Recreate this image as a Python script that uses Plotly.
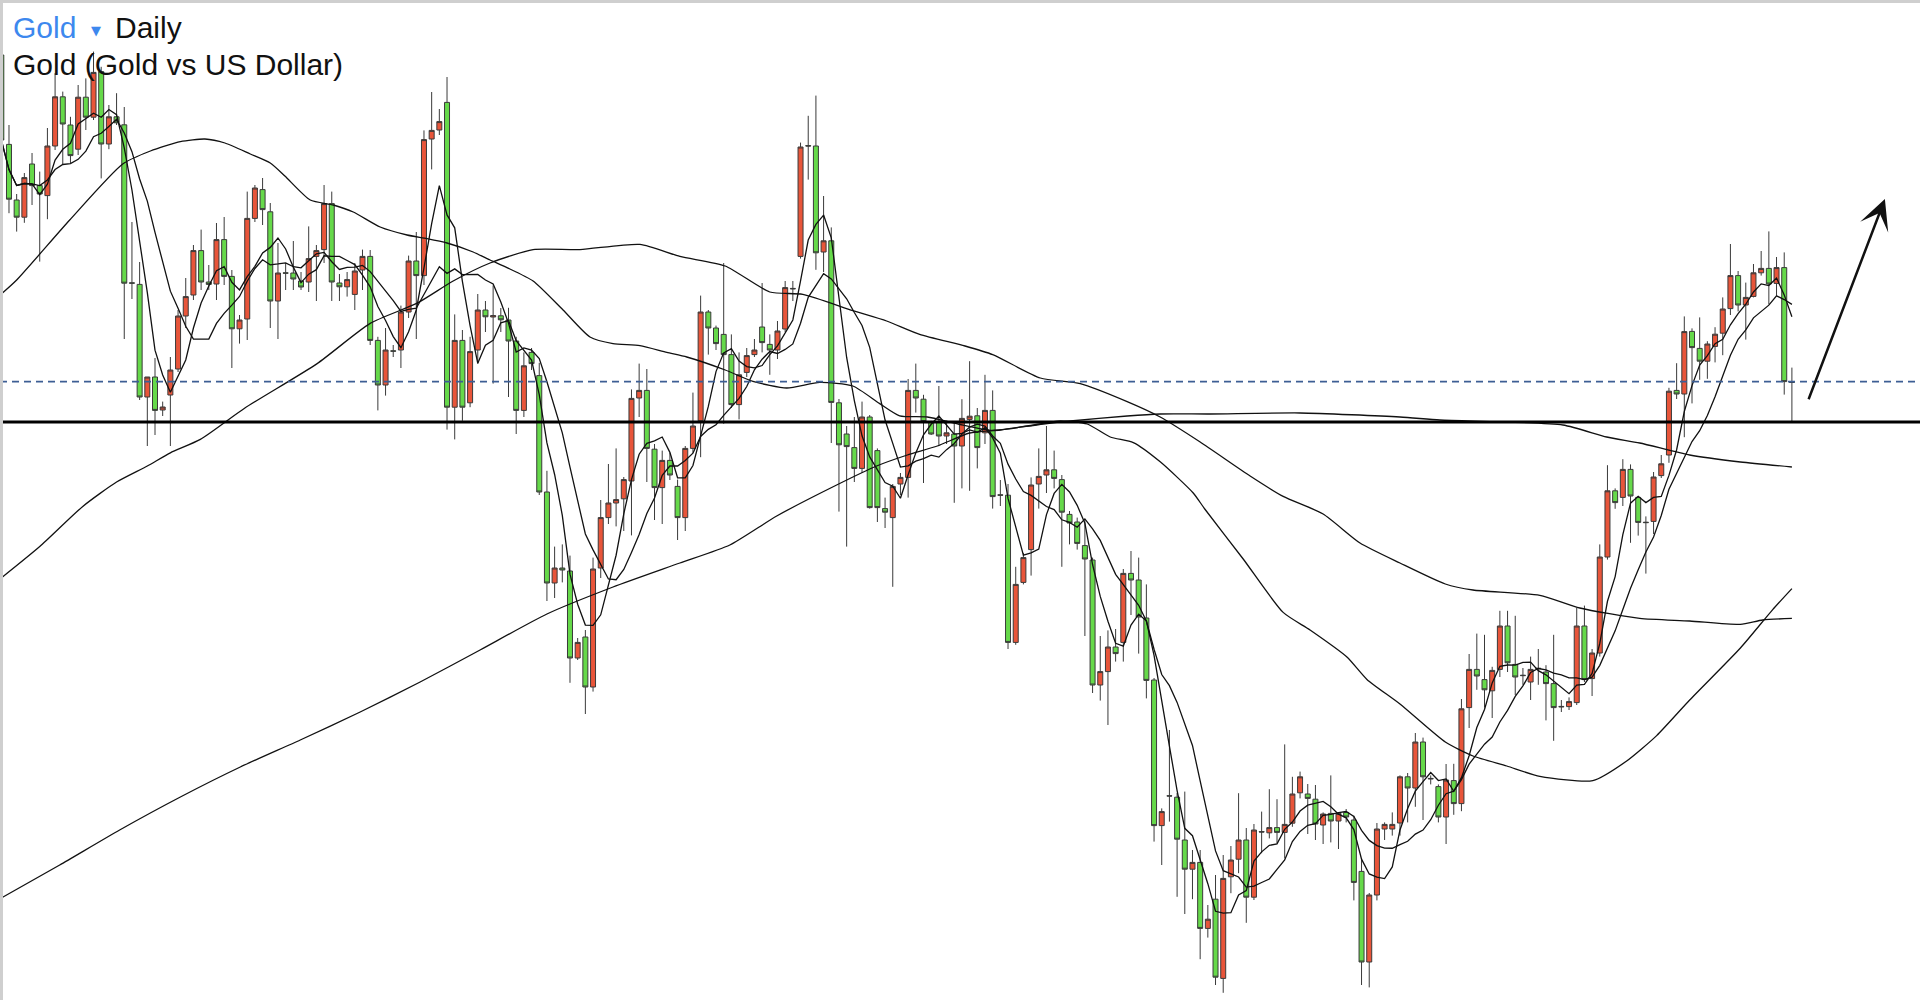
import plotly.graph_objects as go
import pandas as pd

# ---------------- data ----------------
open_ = [1486.25,1463.9,1450.0,1445.7,1459.0,1453.6,1451.1,1463.5,1475.8,1468.75,
 1462.7,1475.7,1470.7,1482.1,1464.0,1470.8,1468.8,1429.3,1428.9,1400.75,
 1405.75,1397.5,1401.25,1407.75,1421.0,1426.25,1437.35,1429.5,1429.0,1440.1,
 1430.9,1417.8,1420.25,1445.4,1452.6,1447.05,1424.75,1431.8,1431.75,1429.75,
 1429.5,1435.9,1437.6,1449.1,1429.25,1428.3,1426.4,1432.5,1435.9,1414.9,
 1403.75,1412.3,1412.5,1422.0,1434.75,1431.1,1465.25,1467.5,1474.4,1398.2,
 1414.9,1399.3,1412.5,1422.5,1420.75,1421.05,1420.0,1414.75,1397.4,1411.9,
 1406.1,1377.0,1354.25,1358.0,1357.25,1335.5,1340.75,1328.25,1358.0,1370.6,
 1374.25,1375.3,1379.75,1400.5,1402.4,1387.7,1378.1,1384.9,1378.4,1370.6,
 1387.9,1394.8,1422.0,1418.0,1416.4,1411.35,1398.85,1406.9,1411.35,1418.25,
 1413.9,1412.5,1417.75,1427.9,1435.9,1463.6,1463.5,1437.0,1439.8,1399.3,
 1391.5,1388.1,1382.9,1395.75,1387.35,1372.85,1370.6,1379.0,1380.65,1402.4,
 1400.2,1394.6,1394.6,1391.0,1391.5,1388.5,1395.15,1396.05,1391.8,1397.4,
 1376.3,1376.2,1339.4,1354.4,1362.6,1379.0,1381.25,1382.55,1380.1,1371.4,
 1369.5,1363.6,1360.0,1328.75,1332.1,1338.25,1339.4,1356.65,1355.0,1345.5,
 1330.0,1293.6,1301.05,1300.7,1290.0,1282.7,1284.4,1267.9,1275.2,1255.4,
 1280.8,1285.2,1290.0,1275.7,1292.1,1291.8,1293.1,1291.9,1294.2,1301.8,
 1301.5,1300.2,1293.75,1296.65,1294.75,1296.9,1295.0,1282.15,1259.5,1276.25,
 1292.75,1292.75,1294.25,1305.8,1303.0,1314.5,1305.4,1303.35,1295.75,1304.85,
 1299.1,1323.1,1332.65,1330.1,1327.3,1332.65,1343.5,1333.9,1331.2,1329.5,
 1332.95,1332.0,1329.1,1323.4,1323.35,1324.35,1343.5,1330.35,1336.75,1360.75,
 1377.3,1375.65,1382.65,1375.65,1369.45,1369.65,1381.1,1386.25,1402.4,1401.5,
 1417.15,1412.9,1409.7,1413.4,1416.7,1422.85,1431.1,1423.75,1425.9,1431.8,
 1432.9,1429.15,1433.1,1404.6]

high = [1487.5,1468.75,1451.5,1456.75,1461.75,1457.1,1468.0,1481.7,1477.1,1470.8,
 1478.75,1480.4,1487.1,1483.3,1473.75,1476.7,1473.25,1444.5,1434.5,1405.75,
 1410.5,1399.6,1410.75,1422.5,1430.5,1438.75,1442.6,1433.75,1444.25,1445.75,
 1432.5,1421.25,1452.1,1453.75,1455.5,1449.25,1439.25,1434.25,1439.75,1432.0,
 1443.4,1438.75,1453.75,1452.1,1431.5,1432.0,1434.25,1437.6,1437.5,1415.8,
 1418.0,1413.75,1423.6,1436.1,1442.0,1467.4,1477.0,1472.75,1480.75,1421.4,
 1417.5,1415.8,1426.5,1424.75,1428.65,1423.0,1423.05,1415.8,1411.9,1413.0,
 1409.3,1382.3,1363.35,1363.9,1361.1,1340.5,1342.5,1360.6,1375.0,1384.0,
 1387.9,1380.75,1402.65,1409.1,1407.75,1389.0,1387.35,1386.8,1380.1,1388.5,
 1401.85,1426.1,1422.5,1418.6,1434.25,1416.4,1411.9,1413.0,1415.25,1429.25,
 1416.4,1419.75,1429.75,1429.75,1464.35,1471.05,1476.1,1451.0,1443.15,1400.25,
 1393.5,1395.75,1399.6,1396.25,1387.9,1375.6,1379.0,1381.75,1405.25,1409.1,
 1401.3,1394.8,1403.5,1394.8,1394.6,1400.2,1409.7,1398.0,1406.3,1402.4,
 1380.0,1379.0,1358.3,1361.75,1380.65,1387.9,1393.5,1387.35,1381.25,1372.25,
 1370.6,1370.05,1360.6,1341.0,1342.4,1342.75,1357.75,1362.25,1360.6,1353.9,
 1330.5,1297.9,1317.5,1301.75,1302.1,1287.5,1287.5,1273.75,1281.25,1286.25,
 1288.5,1301.7,1293.0,1294.0,1297.1,1302.7,1300.2,1313.9,1305.8,1307.1,
 1304.0,1303.75,1296.9,1306.15,1296.9,1297.75,1296.1,1285.0,1276.75,1294.25,
 1294.4,1296.9,1306.15,1306.75,1316.75,1315.6,1306.15,1303.9,1309.0,1309.05,
 1325.25,1336.5,1341.6,1341.3,1333.3,1347.3,1347.3,1346.05,1333.0,1335.85,
 1337.75,1333.7,1341.3,1325.0,1325.65,1348.0,1348.6,1337.75,1363.9,1383.7,
 1377.9,1385.2,1383.9,1376.0,1370.9,1382.0,1386.25,1403.05,1409.2,1420.9,
 1417.9,1420.65,1414.7,1418.2,1425.65,1439.0,1432.25,1429.35,1434.0,1437.25,
 1442.15,1435.75,1436.9,1408.1]

low = [1462.5,1446.7,1442.1,1444.3,1448.75,1434.6,1445.2,1462.5,1458.75,1459.2,
 1461.25,1467.5,1470.0,1455.4,1462.7,1468.75,1415.25,1425.25,1400.0,1388.5,
 1391.25,1396.0,1388.5,1407.0,1418.0,1425.0,1427.5,1427.5,1425.0,1428.75,
 1408.0,1414.1,1415.0,1444.5,1443.75,1418.0,1415.25,1427.5,1427.5,1427.5,
 1427.0,1424.75,1434.25,1424.75,1424.75,1425.85,1422.5,1427.5,1413.75,1397.4,
 1401.1,1410.75,1408.0,1420.5,1415.25,1428.75,1457.65,1466.25,1392.6,1390.15,
 1394.8,1398.2,1409.1,1417.0,1404.1,1417.0,1400.75,1391.5,1395.75,1407.5,
 1376.25,1349.75,1350.5,1354.4,1329.3,1335.0,1321.5,1327.1,1355.5,1369.0,
 1368.4,1367.25,1366.15,1395.75,1379.5,1370.0,1369.0,1380.0,1365.0,1367.25,
 1386.8,1385.7,1411.35,1412.5,1394.05,1398.0,1395.15,1405.75,1410.75,1411.9,
 1406.3,1410.25,1417.0,1424.75,1435.35,1455.1,1432.55,1432.0,1389.25,1372.1,
 1363.35,1379.5,1381.75,1372.85,1369.5,1368.0,1353.3,1376.25,1375.6,1396.85,
 1379.25,1391.25,1388.8,1389.0,1374.3,1377.9,1377.3,1382.9,1389.0,1372.85,
 1373.5,1337.75,1338.8,1353.9,1356.1,1372.85,1376.75,1377.9,1358.3,1363.9,
 1362.6,1341.0,1326.75,1324.85,1318.75,1334.6,1334.6,1346.25,1336.6,1325.4,
 1289.6,1283.75,1294.6,1275.8,1271.5,1275.2,1260.2,1265.6,1253.75,1251.8,
 1276.7,1281.7,1269.3,1275.0,1286.7,1290.4,1289.2,1285.4,1293.3,1300.4,
 1291.5,1290.0,1289.0,1289.4,1287.75,1294.4,1274.9,1253.75,1253.15,1274.9,
 1290.0,1291.1,1291.1,1294.4,1298.3,1295.0,1303.9,1294.4,1289.0,1296.3,
 1297.2,1318.0,1327.55,1323.1,1320.5,1330.75,1332.0,1326.25,1328.8,1325.0,
 1328.8,1319.9,1314.8,1322.0,1322.5,1323.75,1329.5,1326.0,1335.85,1360.1,
 1372.8,1373.5,1364.3,1366.1,1356.6,1366.5,1380.5,1384.3,1400.25,1390.7,
 1399.15,1405.05,1405.3,1409.4,1411.2,1421.25,1422.15,1415.1,1425.65,1431.1,
 1423.9,1426.1,1401.35,1394.5]

close = [1465.0,1450.2,1445.7,1455.6,1453.6,1451.5,1463.5,1475.8,1469.0,1461.1,
 1475.7,1470.7,1481.9,1464.0,1470.8,1469.3,1429.2,1429.2,1400.75,1405.75,
 1397.4,1398.25,1407.5,1421.0,1425.85,1437.35,1429.5,1428.9,1440.1,1430.9,
 1417.8,1420.0,1445.4,1453.0,1447.6,1424.75,1431.75,1431.7,1430.25,1428.25,
 1435.35,1437.35,1449.1,1429.5,1428.3,1430.1,1432.25,1435.9,1414.9,1403.75,
 1412.5,1412.2,1422.0,1434.75,1431.1,1465.1,1467.4,1469.6,1398.2,1414.9,
 1398.2,1412.1,1422.5,1420.8,1421.1,1420.05,1414.75,1397.4,1408.55,1409.1,
 1377.0,1354.25,1358.0,1357.5,1335.5,1339.4,1328.25,1357.75,1370.6,1374.25,
 1375.1,1380.1,1400.4,1402.4,1387.9,1378.1,1384.9,1381.25,1370.6,1387.9,
 1393.5,1422.0,1418.0,1414.1,1411.35,1398.85,1406.3,1411.1,1412.5,1414.35,
 1412.5,1417.25,1428.1,1427.8,1463.25,1463.5,1436.8,1439.8,1399.4,1388.8,
 1388.35,1382.9,1395.75,1373.1,1373.1,1371.95,1378.4,1380.65,1402.4,1400.5,
 1394.6,1391.5,1391.0,1391.8,1388.5,1395.4,1395.95,1388.1,1397.4,1375.85,
 1376.2,1339.4,1353.9,1360.6,1378.75,1380.9,1382.55,1380.4,1371.95,1369.25,
 1364.15,1360.25,1328.75,1332.1,1338.25,1336.6,1356.65,1355.0,1345.75,1329.9,
 1293.6,1297.1,1301.0,1290.2,1282.7,1284.4,1267.9,1270.2,1255.7,1280.4,
 1285.0,1290.0,1275.7,1292.5,1292.0,1293.1,1291.9,1293.9,1301.5,1305.8,
 1300.4,1294.0,1296.5,1294.75,1296.65,1295.75,1279.4,1259.5,1276.25,1292.75,
 1293.9,1293.9,1305.8,1303.0,1314.5,1305.8,1305.3,1295.75,1305.0,1299.1,
 1322.8,1332.65,1331.0,1327.55,1332.4,1343.5,1334.3,1330.75,1331.1,1332.65,
 1332.85,1329.1,1323.1,1323.3,1324.6,1343.5,1330.1,1336.75,1360.75,1377.3,
 1374.35,1382.65,1376.0,1369.4,1369.35,1380.75,1384.05,1402.2,1401.5,1417.1,
 1413.1,1409.7,1414.0,1416.45,1422.75,1431.1,1423.75,1425.65,1431.8,1432.9,
 1429.0,1433.1,1404.6,1404.4]

bars = list(range(len(close)))

# long moving averages (history before the window is not shown, so read off the picture)
ma200_bar = [0,7.6,15.4,23.3,31.1,38.9,46.7,54.5,62.3,71.0,79.6,88.3,94.8,100.9,108.7,113.9,
             117.9,121.8,126.0,130.0,135.6,139.1,146.5,150.8,157.3,169.0,182.0,187.2,203.2,
             208.9,213.2,219.7,226.3,233.0]
ma200_val = [1275.5,1283.75,1292.5,1300.75,1308.25,1315.0,1322.0,1329.5,1337.5,1346.5,1353.25,
             1359.25,1363.75,1371.0,1378.75,1383.5,1386.25,1388.5,1391.75,1392.5,1394.0,
             1394.75,1396.0,1396.5,1396.5,1396.75,1395.75,1395.0,1393.75,1390.75,1389.25,
             1386.25,1384.5,1383.25]

ma100_bar = [0,5.0,10.6,15.0,19.0,22.0,25.9,31.7,41.1,48.0,54.1,58.8,63.6,69.2,75.3,83.1,88.3,
             94.2,100.0,104.3,110.8,115.2,119.5,125.4,129.0,135.2,140.4,146.5,150.8,156.0,
             162.5,166.8,172.0,176.8,182.0,187.9,191.5,200.2,205.4,213.2,219.7,226.3,229.2,233.0]
ma100_val = [1355.5,1363.35,1373.4,1379.5,1383.5,1386.8,1390.15,1398.0,1409.1,1419.15,1424.2,
             1429.75,1434.25,1437.6,1437.6,1438.9,1435.9,1433.5,1427.0,1426.4,1422.35,1419.75,
             1416.4,1413.5,1411.35,1405.5,1404.1,1399.6,1395.75,1389.5,1381.0,1375.9,1371.5,
             1364.25,1359.25,1354.0,1352.5,1351.15,1348.0,1345.4,1344.75,1343.9,1345.0,1345.4]

ma50_bar = [0,2.0,8.9,15.8,19.4,23.3,26.5,29.1,32.4,35.0,36.9,40.2,43.2,45.8,49.3,52.8,55.4,
            58.0,61.4,63.6,65.8,69.2,73.1,76.6,79.6,83.1,86.6,89.2,94.2,97.8,102.2,106.5,110.8,
            114.3,116.9,120.5,124.5,129.0,133.5,137.8,141.3,144.3,147.3,150.8,155.1,156.6,
            161.6,166.8,170.3,175.1,177.7,182.0,187.9,191.5,195.9,200.2,207.1,211.5,215.4,
            219.7,226.3,230.5,233.0]
ma50_val = [1426.5,1430.0,1445.0,1459.0,1462.25,1464.6,1465.25,1464.25,1461.5,1459.25,1456.0,
            1450.0,1448.75,1447.0,1443.25,1441.25,1440.35,1439.25,1437.0,1435.0,1433.1,1429.75,
            1422.5,1415.75,1414.1,1413.6,1411.9,1410.75,1407.5,1404.65,1403.0,1404.4,1403.5,
            1399.1,1396.05,1395.75,1394.0,1392.4,1393.5,1394.8,1394.0,1390.75,1389.35,1384.55,
            1376.75,1372.75,1360.25,1346.9,1342.5,1335.75,1330.15,1324.0,1314.5,1311.0,1308.5,
            1305.9,1304.85,1309.75,1316.1,1325.0,1338.0,1347.6,1352.85]

support_level = 1394.5      # solid black horizontal
current_level = 1404.6      # dashed blue horizontal
arrow_from = (235.1, 1399.8)
arrow_to = (245.1, 1450.25)

# ---------------- figure ----------------
RED = "#E8553A"
GREEN = "#66D94A"
EDGE = "#3a3a3a"

s = pd.Series(close)
sma5 = s.rolling(5, min_periods=1).mean()
sma10 = s.rolling(10, min_periods=1).mean()

fig = go.Figure()
fig.add_trace(go.Candlestick(
    x=bars, open=open_, high=high, low=low, close=close,
    increasing=dict(fillcolor=RED, line=dict(color=EDGE, width=1)),
    decreasing=dict(fillcolor=GREEN, line=dict(color=EDGE, width=1)),
    whiskerwidth=0, showlegend=False, hoverinfo="skip"))

for xs, ys in [(ma200_bar, ma200_val), (ma100_bar, ma100_val), (ma50_bar, ma50_val)]:
    fig.add_trace(go.Scatter(x=xs, y=ys, mode="lines", showlegend=False, hoverinfo="skip",
                             line=dict(color="#111111", width=1.3, shape="spline", smoothing=0.6)))
for ser in (sma10, sma5):
    fig.add_trace(go.Scatter(x=bars, y=ser.tolist(), mode="lines", showlegend=False,
                             hoverinfo="skip", line=dict(color="#111111", width=1.3)))

fig.add_shape(type="line", xref="paper", x0=0, x1=1, yref="y", y0=support_level, y1=support_level,
              line=dict(color="#000000", width=3), layer="above")
fig.add_shape(type="line", xref="paper", x0=0, x1=1, yref="y", y0=current_level, y1=current_level,
              line=dict(color="#3D5E94", width=1.8, dash="7px,5px"), layer="above")
# thin gray frame on the left and top edges
fig.add_shape(type="rect", xref="paper", yref="paper", x0=0, x1=3/1920, y0=0, y1=1,
              line=dict(width=0), fillcolor="#cfcfcf", layer="above")
fig.add_shape(type="rect", xref="paper", yref="paper", x0=0, x1=1, y0=1-3/1000, y1=1,
              line=dict(width=0), fillcolor="#cfcfcf", layer="above")

fig.add_annotation(x=arrow_to[0], y=arrow_to[1], ax=arrow_from[0], ay=arrow_from[1],
                   xref="x", yref="y", axref="x", ayref="y", text="", showarrow=True,
                   arrowhead=3, arrowsize=2, arrowwidth=2.5, arrowcolor="#111111", standoff=0)

FONT = "Liberation Sans, Arial, Helvetica, sans-serif"
BLUE = "#3D88EE"
fig.add_annotation(xref="paper", yref="paper", x=11/1920, y=1-27.5/1000, xanchor="left",
                   yanchor="middle", text="Gold", showarrow=False,
                   font=dict(family=FONT, size=30, color=BLUE))
fig.add_annotation(xref="paper", yref="paper", x=96/1920, y=1-30/1000, xanchor="center",
                   yanchor="middle", text="▼", showarrow=False,
                   font=dict(family="DejaVu Sans", size=13, color=BLUE))
fig.add_annotation(xref="paper", yref="paper", x=113/1920, y=1-27.5/1000, xanchor="left",
                   yanchor="middle", text="Daily", showarrow=False,
                   font=dict(family=FONT, size=30, color="#111111"))
fig.add_annotation(xref="paper", yref="paper", x=11/1920, y=1-65/1000, xanchor="left",
                   yanchor="middle", text="Gold (Gold vs US Dollar)", showarrow=False,
                   font=dict(family=FONT, size=30, color="#111111"))

fig.update_layout(
    width=1920, height=1000, autosize=False,
    margin=dict(l=0, r=0, t=0, b=0, pad=0),
    paper_bgcolor="white", plot_bgcolor="white",
    xaxis=dict(range=[-1.3/7.685, (1920-1.3)/7.685], visible=False,
               rangeslider=dict(visible=False), fixedrange=True),
    yaxis=dict(range=[1250, 1500], visible=False, fixedrange=True),
    boxgap=0.35, boxgroupgap=0,
)

fig.write_html("out.html", config={"displayModeBar": False},
               post_script="document.body.style.margin='0';document.body.style.overflow='hidden';")
